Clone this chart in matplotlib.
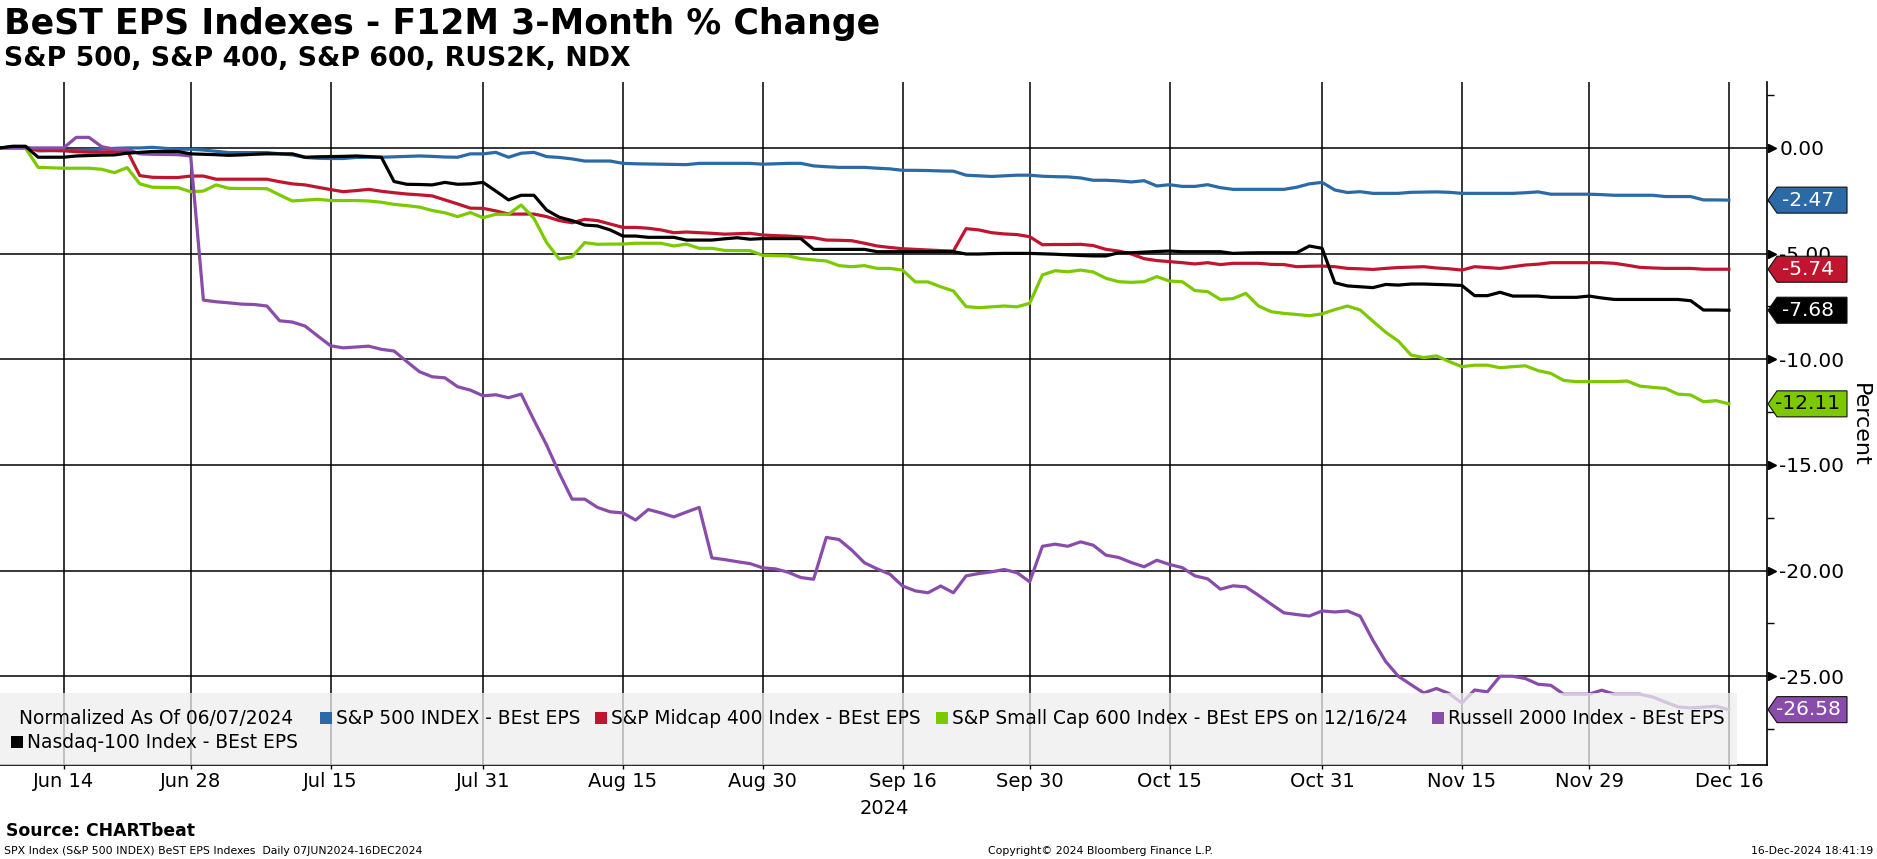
import numpy as np
import pandas as pd
import matplotlib
matplotlib.use("Agg")
import matplotlib.pyplot as plt
from matplotlib.patches import Rectangle, Polygon
from matplotlib import transforms
from matplotlib.ticker import FixedLocator, FormatStrFormatter

plt.rcParams["font.family"] = "DejaVu Sans"
plt.rcParams["axes.unicode_minus"] = False

W, H = 1877, 859

# ---- data (percent change, weekdays 07-Jun-2024 .. 16-Dec-2024) ----
dates = pd.bdate_range("2024-06-07", "2024-12-16")

spx = [0.00, 0.05, 0.06, -0.14, -0.13, -0.13, -0.12, -0.10, -0.05, -0.02,
       0.00, 0.00, 0.03, -0.02, -0.06, -0.06, -0.10, -0.16, -0.22, -0.22,
       -0.22, -0.22, -0.28, -0.33, -0.45, -0.49, -0.50, -0.50, -0.45, -0.44,
       -0.44, -0.42, -0.40, -0.38, -0.40, -0.43, -0.44, -0.28, -0.28, -0.21,
       -0.44, -0.25, -0.21, -0.41, -0.45, -0.52, -0.62, -0.62, -0.62, -0.73,
       -0.75, -0.76, -0.77, -0.78, -0.79, -0.73, -0.73, -0.73, -0.73, -0.73,
       -0.77, -0.75, -0.73, -0.73, -0.85, -0.89, -0.92, -0.92, -0.92, -0.96,
       -0.99, -1.06, -1.06, -1.07, -1.09, -1.10, -1.29, -1.32, -1.35, -1.32,
       -1.29, -1.29, -1.34, -1.36, -1.37, -1.42, -1.53, -1.53, -1.56, -1.61,
       -1.55, -1.80, -1.74, -1.82, -1.82, -1.74, -1.88, -1.96, -1.96, -1.96,
       -1.96, -1.96, -1.86, -1.70, -1.63, -1.99, -2.11, -2.07, -2.15, -2.15,
       -2.15, -2.10, -2.09, -2.08, -2.10, -2.15, -2.15, -2.15, -2.15, -2.15,
       -2.12, -2.08, -2.19, -2.19, -2.19, -2.19, -2.21, -2.24, -2.24, -2.24,
       -2.24, -2.30, -2.30, -2.30, -2.46, -2.46, -2.47]

mid = [0.00, 0.00, 0.00, -0.09, -0.11, -0.13, -0.18, -0.20, -0.19, -0.17,
       -0.13, -1.31, -1.39, -1.40, -1.40, -1.33, -1.33, -1.48, -1.48, -1.48,
       -1.48, -1.48, -1.60, -1.70, -1.75, -1.86, -1.97, -2.07, -2.02, -1.96,
       -2.05, -2.12, -2.18, -2.22, -2.27, -2.46, -2.65, -2.85, -2.86, -2.98,
       -3.13, -3.13, -3.13, -3.25, -3.44, -3.54, -3.38, -3.44, -3.60, -3.76,
       -3.76, -3.80, -3.88, -4.01, -3.98, -4.01, -4.04, -4.08, -4.06, -4.04,
       -4.12, -4.15, -4.17, -4.21, -4.25, -4.36, -4.37, -4.39, -4.51, -4.64,
       -4.71, -4.77, -4.80, -4.83, -4.86, -4.88, -3.82, -3.88, -4.01, -4.07,
       -4.10, -4.20, -4.58, -4.57, -4.57, -4.56, -4.62, -4.80, -4.88, -5.02,
       -5.24, -5.33, -5.38, -5.43, -5.49, -5.43, -5.52, -5.46, -5.46, -5.46,
       -5.51, -5.52, -5.62, -5.60, -5.59, -5.62, -5.70, -5.72, -5.75, -5.70,
       -5.66, -5.64, -5.62, -5.68, -5.72, -5.78, -5.62, -5.66, -5.70, -5.62,
       -5.54, -5.50, -5.43, -5.43, -5.43, -5.43, -5.43, -5.46, -5.55, -5.65,
       -5.68, -5.70, -5.70, -5.70, -5.74, -5.74, -5.74]

small = [0.00, 0.00, 0.00, -0.92, -0.94, -0.96, -0.96, -0.96, -1.01, -1.17,
         -0.93, -1.70, -1.86, -1.87, -1.88, -2.07, -2.04, -1.75, -1.91, -1.92,
         -1.92, -1.93, -2.23, -2.51, -2.47, -2.43, -2.49, -2.49, -2.49, -2.51,
         -2.57, -2.67, -2.73, -2.80, -2.96, -3.07, -3.25, -3.06, -3.30, -3.14,
         -3.14, -2.70, -3.33, -4.48, -5.26, -5.15, -4.48, -4.56, -4.55, -4.55,
         -4.51, -4.51, -4.51, -4.64, -4.55, -4.75, -4.75, -4.85, -4.86, -4.86,
         -5.08, -5.10, -5.11, -5.24, -5.30, -5.35, -5.57, -5.62, -5.57, -5.70,
         -5.70, -5.78, -6.34, -6.34, -6.57, -6.77, -7.51, -7.56, -7.52, -7.48,
         -7.52, -7.35, -6.01, -5.81, -5.86, -5.78, -5.87, -6.17, -6.33, -6.36,
         -6.33, -6.09, -6.30, -6.33, -6.75, -6.80, -7.17, -7.13, -6.88, -7.48,
         -7.75, -7.83, -7.88, -7.94, -7.85, -7.65, -7.48, -7.67, -8.20, -8.72,
         -9.14, -9.80, -9.92, -9.84, -10.11, -10.35, -10.28, -10.28, -10.40, -10.35,
         -10.31, -10.54, -10.67, -11.00, -11.06, -11.06, -11.06, -11.06, -11.03, -11.27,
         -11.33, -11.38, -11.65, -11.69, -12.01, -11.96, -12.11]

rty = [0.00, 0.00, 0.00, 0.00, 0.00, 0.00, 0.50, 0.50, 0.06, -0.06,
       -0.06, -0.28, -0.30, -0.31, -0.32, -0.38, -7.20, -7.28, -7.33, -7.39,
       -7.41, -7.48, -8.18, -8.24, -8.43, -8.90, -9.36, -9.46, -9.42, -9.38,
       -9.53, -9.61, -10.11, -10.59, -10.83, -10.88, -11.30, -11.46, -11.73, -11.68,
       -11.82, -11.65, -12.88, -14.06, -15.40, -16.62, -16.62, -17.01, -17.22, -17.27,
       -17.61, -17.11, -17.27, -17.46, -17.23, -17.01, -19.40, -19.48, -19.58, -19.67,
       -19.87, -19.92, -20.08, -20.33, -20.41, -18.43, -18.53, -19.03, -19.63, -19.92,
       -20.17, -20.73, -20.96, -21.05, -20.73, -21.05, -20.25, -20.14, -20.06, -19.95,
       -20.10, -20.53, -18.85, -18.75, -18.85, -18.64, -18.80, -19.27, -19.38, -19.62,
       -19.82, -19.51, -19.71, -19.86, -20.25, -20.39, -20.88, -20.72, -20.77, -21.17,
       -21.59, -22.00, -22.08, -22.15, -21.91, -21.96, -21.91, -22.16, -23.30, -24.30,
       -25.00, -25.40, -25.79, -25.58, -25.82, -26.27, -25.65, -25.74, -25.00, -25.00,
       -25.11, -25.38, -25.43, -25.85, -25.85, -25.85, -25.66, -25.85, -25.85, -25.85,
       -25.98, -26.22, -26.45, -26.50, -26.46, -26.42, -26.58]

ndx = [0.00, 0.08, 0.08, -0.44, -0.44, -0.44, -0.38, -0.36, -0.34, -0.33,
       -0.25, -0.21, -0.17, -0.17, -0.17, -0.28, -0.30, -0.32, -0.35, -0.33,
       -0.30, -0.28, -0.28, -0.28, -0.44, -0.42, -0.41, -0.40, -0.38, -0.41,
       -0.44, -1.59, -1.72, -1.73, -1.75, -1.63, -1.72, -1.70, -1.63, -2.04,
       -2.46, -2.24, -2.24, -2.94, -3.28, -3.44, -3.65, -3.69, -3.88, -4.17,
       -4.17, -4.23, -4.23, -4.23, -4.36, -4.36, -4.36, -4.30, -4.25, -4.32,
       -4.29, -4.29, -4.29, -4.29, -4.80, -4.80, -4.80, -4.80, -4.80, -4.91,
       -4.91, -4.91, -4.91, -4.91, -4.91, -4.91, -5.02, -5.02, -5.00, -4.99,
       -4.99, -4.99, -5.01, -5.03, -5.06, -5.09, -5.11, -5.11, -4.96, -4.96,
       -4.93, -4.90, -4.88, -4.91, -4.91, -4.91, -4.91, -4.99, -4.97, -4.96,
       -4.96, -4.96, -4.96, -4.64, -4.75, -6.38, -6.53, -6.57, -6.61, -6.46,
       -6.49, -6.44, -6.44, -6.46, -6.48, -6.51, -6.99, -6.99, -6.83, -7.01,
       -7.01, -7.01, -7.07, -7.07, -7.07, -7.01, -7.10, -7.17, -7.17, -7.17,
       -7.17, -7.17, -7.17, -7.23, -7.67, -7.67, -7.68]

tick_dates = ["2024-06-14", "2024-06-28", "2024-07-15", "2024-07-31", "2024-08-15",
              "2024-08-30", "2024-09-16", "2024-09-30", "2024-10-15", "2024-10-31",
              "2024-11-15", "2024-11-29", "2024-12-16"]
tick_labels = ["Jun 14", "Jun 28", "Jul 15", "Jul 31", "Aug 15", "Aug 30", "Sep 16",
               "Sep 30", "Oct 15", "Oct 31", "Nov 15", "Nov 29", "Dec 16"]

series = [
    ("S&P 500 INDEX - BEst EPS", spx, "#2b6aa6", "-2.47", "white"),
    ("S&P Midcap 400 Index - BEst EPS", mid, "#c0152f", "-5.74", "white"),
    ("S&P Small Cap 600 Index - BEst EPS on 12/16/24", small, "#7dc900", "-12.11", "black"),
    ("Russell 2000 Index - BEst EPS", rty, "#8a4cab", "-26.58", "white"),
    ("Nasdaq-100 Index - BEst EPS", ndx, "#000000", "-7.68", "white"),
]


def fx(px):
    return px / W


def fy(py):
    return 1 - py / H


fig = plt.figure(figsize=(W / 100, H / 100), dpi=100)
ax_left, ax_right, ax_top, ax_bot = 0, 1767, 82, 765
ax = fig.add_axes([fx(ax_left), fy(ax_bot), fx(ax_right - ax_left), (ax_bot - ax_top) / H])

x = np.arange(len(dates))
for name, vals, col, tag, tcol in series:
    ax.plot(x, vals, color=col, lw=2.3, zorder=3, solid_joinstyle="round")

ax.set_xlim(0, 139)
ax.set_ylim(-29.2, 3.12)

# axes / grid
tick_pos = dates.get_indexer(pd.to_datetime(tick_dates))
ax.xaxis.set_major_locator(FixedLocator(tick_pos))
ax.set_xticklabels(tick_labels)
ax.yaxis.tick_right()
ax.yaxis.set_major_locator(FixedLocator([0, -5, -10, -15, -20, -25]))
ax.yaxis.set_minor_locator(FixedLocator([2.5, -2.5, -7.5, -12.5, -17.5, -22.5, -27.5]))
ax.yaxis.set_major_formatter(FormatStrFormatter("%.2f"))
ax.grid(True, which="major", color="black", lw=1.1, zorder=1)
ax.tick_params(axis="x", length=3, width=1, pad=2, labelsize=14)
ax.tick_params(axis="y", which="major", length=0, pad=9, labelsize=14.5)
ax.tick_params(axis="y", which="minor", length=5, width=1, direction="out")
for s in ["left", "top"]:
    ax.spines[s].set_visible(False)
for s in ["right", "bottom"]:
    ax.spines[s].set_linewidth(1.2)

# arrow-head major ticks on the right axis
blend_ax = transforms.blended_transform_factory(ax.transAxes, ax.transData)
ax.plot([1.003] * 6, [0, -5, -10, -15, -20, -25], ls="none", marker=">", ms=6,
        color="black", transform=blend_ax, clip_on=False, zorder=6)

# semi-transparent legend panel over the bottom of the plot
ax.add_patch(Rectangle((0, 0), 1737 / 1767, (ax_bot - 693) / (ax_bot - ax_top),
                       transform=ax.transAxes, facecolor="#eeeeee", alpha=0.75,
                       edgecolor="none", zorder=5))

leg_fs = 13.4
fig.text(fx(19), fy(718), "Normalized As Of 06/07/2024", fontsize=leg_fs, va="center")
leg_pos = [(320, 718), (595, 718), (936, 718), (1432, 718), (11, 742)]
for (name, vals, col, tag, tcol), (lx, ly) in zip(series, leg_pos):
    fig.patches.append(Rectangle((fx(lx), fy(ly + 6)), fx(12), 12 / H, facecolor=col,
                                 edgecolor="none", transform=fig.transFigure, figure=fig))
    fig.text(fx(lx + 16), fy(ly), name, fontsize=leg_fs, va="center")

# value tags at the right edge
blend_fig = transforms.blended_transform_factory(fig.transFigure, ax.transData)
hh = 13 / ((ax_bot - ax_top) / (3.12 + 29.2))
for name, vals, col, tag, tcol in series:
    v = vals[-1]
    pts = [(fx(1768), v), (fx(1777), v + hh), (fx(1847), v + hh),
           (fx(1847), v - hh), (fx(1777), v - hh)]
    fig.add_artist(Polygon(pts, closed=True, facecolor=col, edgecolor="#111111",
                           lw=0.8, transform=blend_fig))
    fig.text(fx(1808), v, tag, color=tcol, fontsize=14.5, ha="center",
             va="center", transform=blend_fig)

fig.text(fx(1860), fy(425), "Percent", rotation=270, fontsize=16, ha="center", va="center")
fig.text(fx(884), fy(808), "2024", fontsize=14, ha="center", va="center")

# titles and footer
fig.text(fx(4), fy(24), "BeST EPS Indexes - F12M 3-Month % Change", fontsize=25,
         fontweight="bold", va="center")
fig.text(fx(4), fy(59), "S&P 500, S&P 400, S&P 600, RUS2K, NDX", fontsize=19.3,
         fontweight="bold", va="center")
fig.text(fx(6), fy(831), "Source: CHARTbeat", fontsize=12.4, fontweight="bold", va="center")
fig.text(fx(4), fy(851), "SPX Index (S&P 500 INDEX) BeST EPS Indexes  Daily 07JUN2024-16DEC2024",
         fontsize=7.8, va="center")
fig.text(fx(1100), fy(851), "Copyright\u00a9 2024 Bloomberg Finance L.P.", fontsize=7.8,
         ha="center", va="center")
fig.text(fx(1873), fy(851), "16-Dec-2024 18:41:19", fontsize=7.8, ha="right", va="center")

fig.savefig("out.png", dpi=100)
